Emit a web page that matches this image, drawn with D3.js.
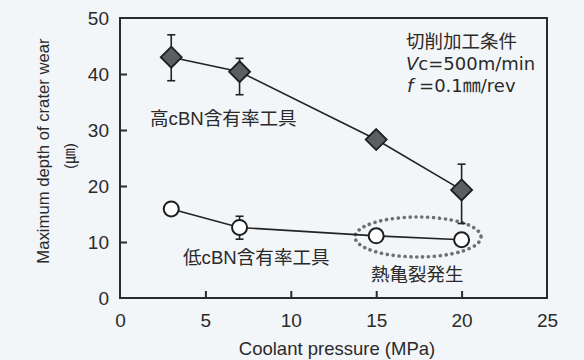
<!DOCTYPE html>
<html><head><meta charset="utf-8">
<script src="https://cdn.jsdelivr.net/npm/d3@7"></script>
<style>
html,body{margin:0;padding:0;background:#f3f6f9;}
svg{display:block;}
text{font-family:"Liberation Sans",Arial,"Noto Sans CJK JP",sans-serif;fill:#2a2a2a;}
</style></head>
<body>
<svg id="c" width="584" height="360"></svg>
<script>
const pressure = [3, 7, 15, 20];
const highValues = [43, 40.4, 28.3, 19.3];
const highUpper = [47, 42.8, 28.3, 23.9];
const highLower = [38.8, 36.3, 28.3, 13.3];
const lowValues = [15.9, 12.6, 11.1, 10.4];
const lowUpper = [15.9, 14.6, 11.1, 10.4];
const lowLower = [15.9, 10.5, 11.1, 10.4];
const xTicks = [0, 5, 10, 15, 20, 25];
const yTicks = [0, 10, 20, 30, 40, 50];
const highLabel = "高cBN含有率工具";
const lowLabel = "低cBN含有率工具";
const crackLabel = "熱亀裂発生";
const condLines = ["切削加工条件"];

const svg = d3.select("#c");
svg.append("rect").attr("width",584).attr("height",360).attr("fill","#f3f6f9");
const L=120,R=547,T=18,B=298;
const x = d3.scaleLinear().domain([0,25]).range([L,R]);
const y = d3.scaleLinear().domain([0,50]).range([B,T]);

const axisColor="#2a2a2a";
svg.append("rect").attr("x",L).attr("y",T).attr("width",R-L).attr("height",B-T)
  .attr("fill","none").attr("stroke",axisColor).attr("stroke-width",2);

const gx = svg.append("g").attr("transform",`translate(0,${B})`)
  .call(d3.axisBottom(x).tickValues(xTicks).tickSize(-7).tickPadding(16).tickFormat(d3.format("d")));
const gy = svg.append("g").attr("transform",`translate(${L},0)`)
  .call(d3.axisLeft(y).tickValues(yTicks).tickSize(-7).tickPadding(16).tickFormat(d3.format("d")));
[gx,gy].forEach(g=>{
  g.select(".domain").remove();
  g.selectAll("line").attr("stroke",axisColor).attr("stroke-width",2);
  g.selectAll("text").attr("font-size",19).attr("fill","#2a2a2a")
   .attr("font-family",'"Liberation Sans",Arial,sans-serif');
});
gx.selectAll(".tick").filter(d=>d===0||d===25).select("line").remove();
gy.selectAll(".tick").filter(d=>d===0||d===50).select("line").remove();
gy.selectAll("text").attr("x",-11);

svg.append("text").attr("x",337).attr("y",355).attr("text-anchor","middle")
  .attr("font-size",18.5).text("Coolant pressure (MPa)");
svg.append("text").attr("transform",`translate(49,151) rotate(-90)`)
  .attr("text-anchor","middle").attr("font-size",16.7).text("Maximum depth of crater wear");
svg.append("text").attr("transform",`translate(75,156) rotate(-90)`)
  .attr("text-anchor","middle").attr("font-size",15.5).text("(㎛)");

svg.append("ellipse").attr("cx",x(17.45)).attr("cy",y(10.9))
  .attr("rx",x(3.69)-x(0)).attr("ry",y(0)-y(3.57))
  .attr("fill","none").attr("stroke","#707070").attr("stroke-width",3.6)
  .attr("stroke-dasharray","0.1 5.8").attr("stroke-linecap","round");

const line = d3.line().x(d=>x(d[0])).y(d=>y(d[1]));
function errorBars(vals, up, lo){
  const g = svg.append("g").attr("stroke","#222").attr("stroke-width",1.6);
  pressure.forEach((p,i)=>{
    if(up[i]===lo[i]) return;
    g.append("line").attr("x1",x(p)).attr("x2",x(p)).attr("y1",y(up[i])).attr("y2",y(lo[i]));
    [up[i],lo[i]].forEach(v=>{
      if(v===vals[i]) return;
      g.append("line").attr("x1",x(p)-4).attr("x2",x(p)+4).attr("y1",y(v)).attr("y2",y(v));
    });
  });
}
errorBars(highValues, highUpper, highLower);
errorBars(lowValues, lowUpper, lowLower);

svg.append("path").datum(pressure.map((p,i)=>[p,highValues[i]])).attr("d",line)
  .attr("fill","none").attr("stroke","#222").attr("stroke-width",1.6);
svg.append("path").datum(pressure.map((p,i)=>[p,lowValues[i]])).attr("d",line)
  .attr("fill","none").attr("stroke","#222").attr("stroke-width",1.6);

svg.selectAll(".dia").data(pressure.map((p,i)=>[p,highValues[i]])).enter().append("path")
  .attr("d","M0,-10.5L10.5,0L0,10.5L-10.5,0Z")
  .attr("transform",d=>`translate(${x(d[0])},${y(d[1])})`)
  .attr("fill","#5c5f60").attr("stroke","#1e1e1e").attr("stroke-width",1.8);
svg.selectAll(".cir").data(pressure.map((p,i)=>[p,lowValues[i]])).enter().append("circle")
  .attr("cx",d=>x(d[0])).attr("cy",d=>y(d[1])).attr("r",7.5)
  .attr("fill","#fff").attr("stroke","#1e1e1e").attr("stroke-width",2);

svg.append("text").attr("x",150).attr("y",125).attr("font-size",18.6).text(highLabel);
svg.append("text").attr("x",183).attr("y",264).attr("font-size",18.6).text(lowLabel);
svg.append("text").attr("x",371).attr("y",281).attr("font-size",18.5).text(crackLabel);
const cond = svg.append("text").attr("font-size",18.5);
cond.append("tspan").attr("x",406).attr("y",48).text(condLines[0]);
const lat = '"DejaVu Sans","Noto Sans CJK JP",sans-serif';
const l2 = cond.append("tspan").attr("x",406).attr("y",70).attr("font-family",lat).attr("font-size",18);
l2.append("tspan").attr("font-style","italic").text("V");
l2.append("tspan").text("c=500m/min");
const l3 = cond.append("tspan").attr("x",407).attr("y",92).attr("font-family",lat).attr("font-size",18);
l3.append("tspan").attr("font-style","italic").text("f");
l3.append("tspan").text(" =0.1㎜/rev");
</script>
</body></html>
